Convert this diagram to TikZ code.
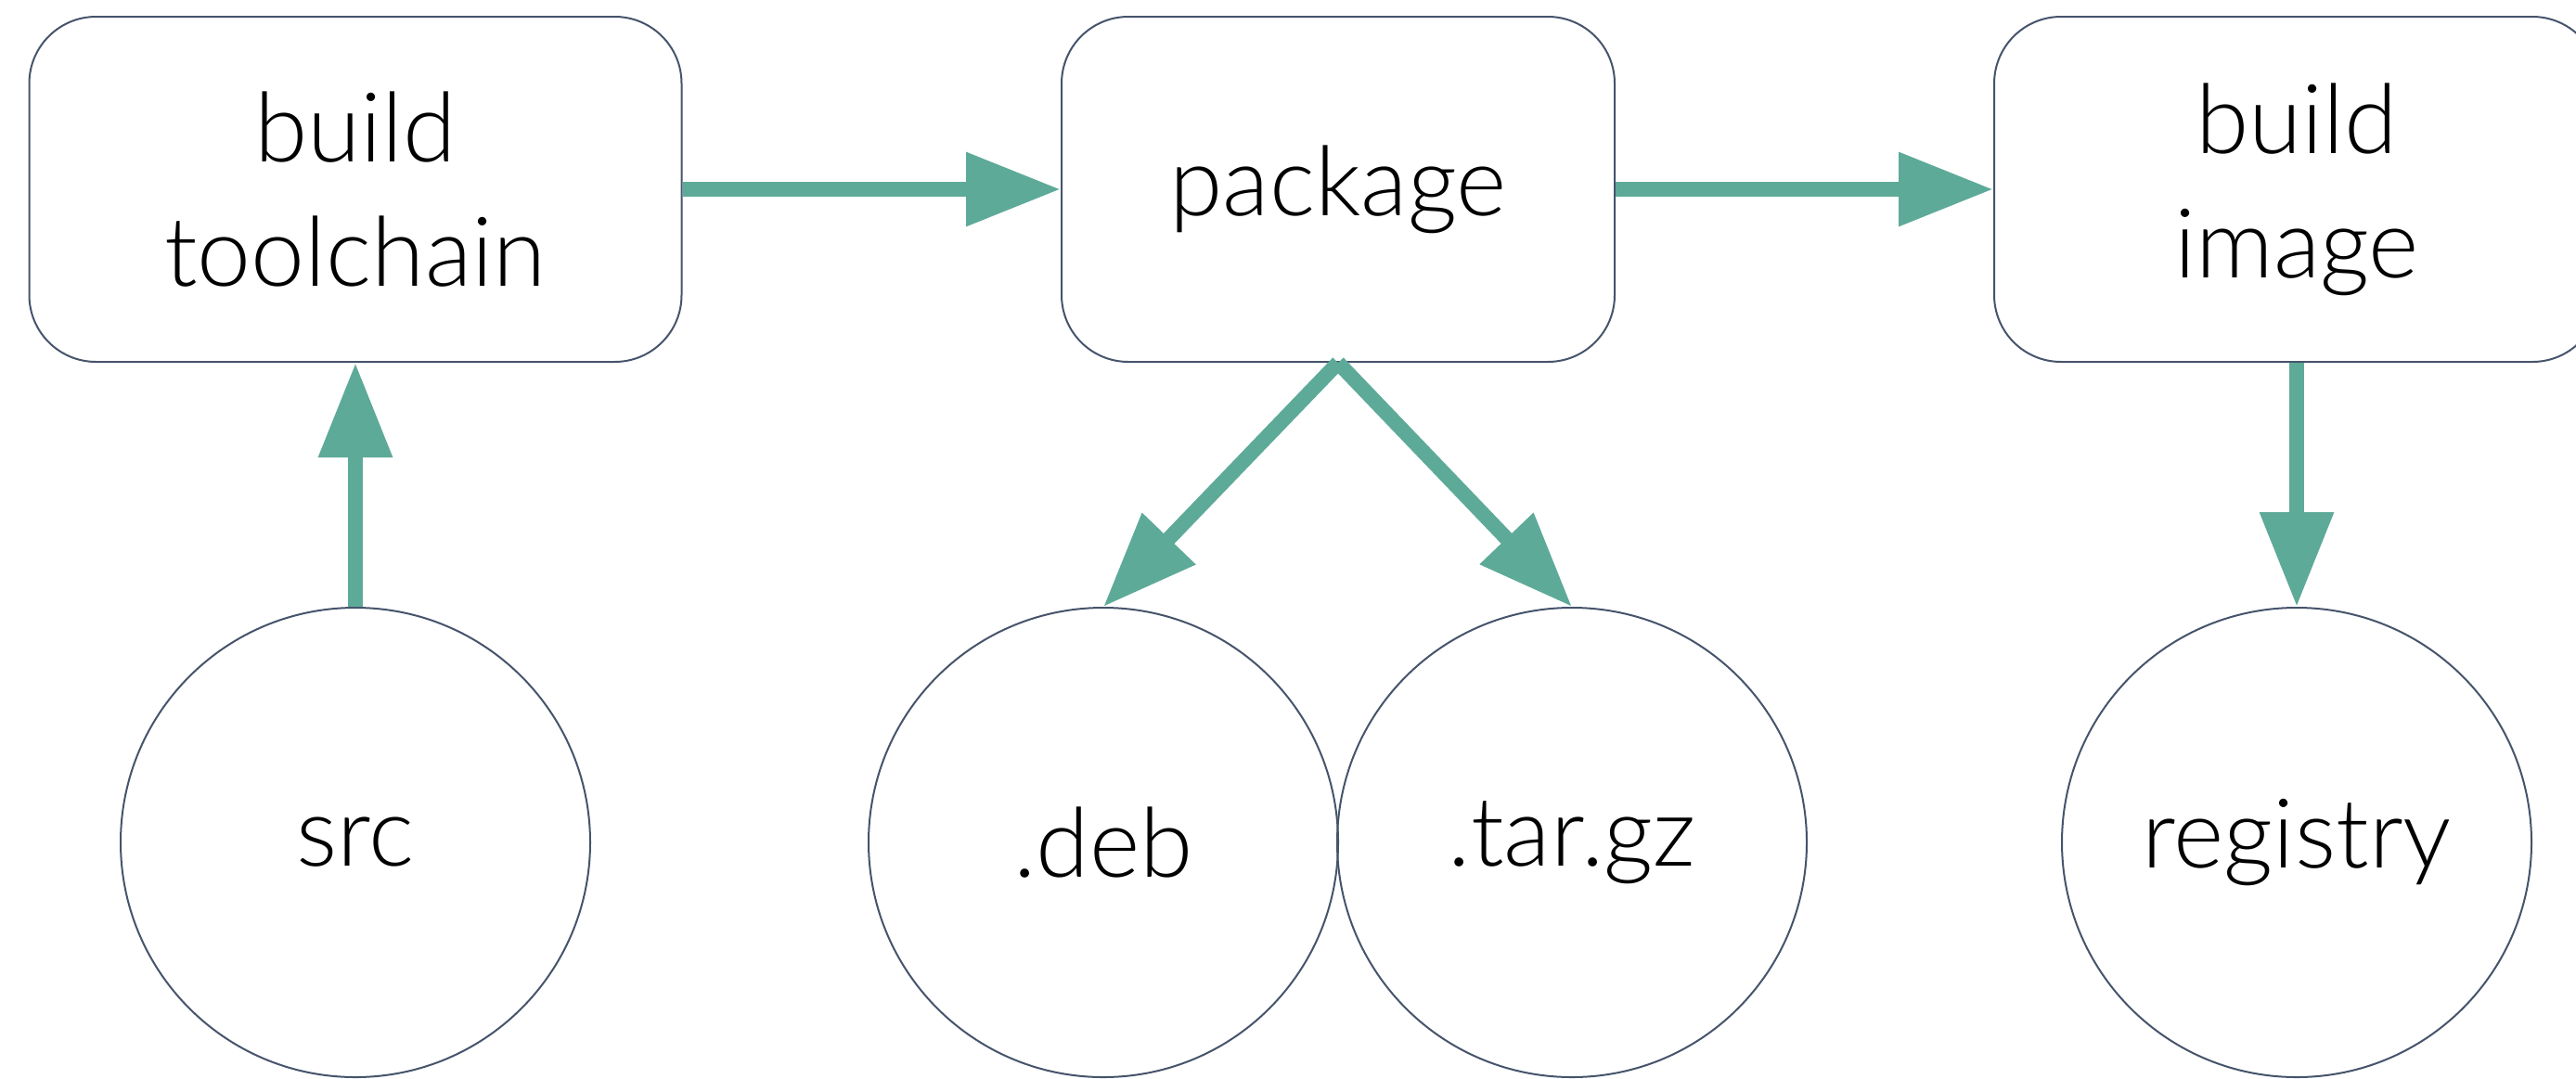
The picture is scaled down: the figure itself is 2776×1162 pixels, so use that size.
\documentclass[tikz,border=0pt]{standalone}
\usepackage{fontspec}
\setmainfont{Lato}[UprightFont=* Light]
\usetikzlibrary{arrows.meta}
\definecolor{flow}{HTML}{5EAA99}
\definecolor{edge}{HTML}{46546B}
\begin{document}
\begin{tikzpicture}[x=0.5pt,y=-0.5pt,
  txt/.style={font=\fontsize{52}{67}\selectfont, text=black},
  box/.style={txt, draw=edge, line width=1pt, rounded corners=36pt, align=center, inner sep=0pt, minimum height=186pt},
  circ/.style={txt, draw=edge, line width=1pt, circle, minimum size=253pt, inner sep=0pt},
  arr/.style={draw=flow, line width=8pt, -{Triangle[length=51pt,width=38pt]}}]
\useasboundingbox (0,0) rectangle (2776,1162);
\clip (0,0) rectangle (2776,1162);
\node[box, minimum width=351.5pt] (tool) at (383,204) {build\\toolchain};
\node[box, minimum width=298pt] (pkg) at (1442,204) {package};
\node[box, minimum width=326pt] (img) at (2475,204) {build\\image};
\node[circ] (src) at (383,908) {src};
\node[circ] (deb) at (1189,908) {.deb};
\node[circ] (tgz) at (1694,908) {.tar.gz};
\node[circ] (reg) at (2475,908) {registry};
\draw[arr] (tool.east) -- (pkg.west);
\draw[arr] (pkg.east) -- (img.west);
\draw[arr] (src.north) -- (tool.south);
\draw[arr] (pkg.south) -- (deb.north);
\draw[arr] (pkg.south) -- (tgz.north);
\draw[arr] (img.south) -- (reg.north);
\end{tikzpicture}
\end{document}
